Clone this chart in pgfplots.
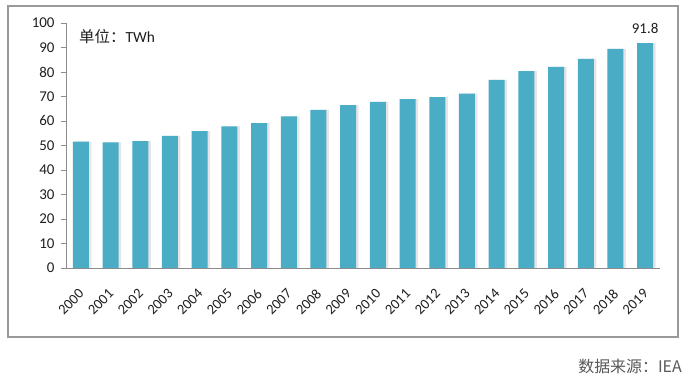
\documentclass[border=0pt]{standalone}
\usepackage{pgfplots}
\pgfplotsset{compat=1.18}
\usepackage{fontspec}
\setmainfont{Carlito}
\newfontfamily\cjk{Noto Sans CJK SC}
\definecolor{barc}{HTML}{4BACC6}
\definecolor{txt}{HTML}{1F1F1F}
\begin{document}
\begin{tikzpicture}
\path[use as bounding box] (0,0) rectangle (690bp,377bp);
\fill[white] (0,0) rectangle (690bp,377bp);
\draw[color=black!40, line width=1.5bp] (8bp,40bp) rectangle (678bp,371bp);
\begin{axis}[
  at={(66bp,109bp)}, anchor=south west,
  scale only axis, width=594bp, height=245bp,
  xmin=-0.5, xmax=19.5, ymin=0, ymax=100,
  ytick={0,10,...,100},
  xtick={0,...,19},
  xticklabels={2000,2001,2002,2003,2004,2005,2006,2007,2008,2009,2010,2011,2012,2013,2014,2015,2016,2017,2018,2019},
  axis x line*=bottom, axis y line*=left,
  axis line style={color=black!45, line width=0.8bp},
  y axis line style={-}, x axis line style={-},
  major tick length=5bp,
  ytick style={color=black!45, line width=0.8bp},
  xtick style={draw=none},
  tick align=outside,
  yticklabel style={font=\fontsize{15}{15}\selectfont, color=txt, xshift=-3bp},
  xticklabel style={font=\fontsize{14.5}{15}\selectfont, color=txt, anchor=east, yshift=-16bp, xshift=3bp, rotate=45},
  /pgf/number format/assume math mode=true,
  clip=false,
]
\addplot[ybar, bar width=16bp, bar shift=2.5bp, fill=black!10, draw=none] coordinates {
(0,51.6) (1,51.3) (2,51.8) (3,53.9) (4,55.9) (5,57.8) (6,59.1) (7,61.9) (8,64.5) (9,66.5)
(10,67.8) (11,68.9) (12,69.7) (13,71.2) (14,76.8) (15,80.4) (16,82.1) (17,85.4) (18,89.4) (19,91.8)};
\addplot[ybar, bar width=16bp, bar shift=0bp, fill=barc, draw=none] coordinates {
(0,51.6) (1,51.3) (2,51.8) (3,53.9) (4,55.9) (5,57.8) (6,59.1) (7,61.9) (8,64.5) (9,66.5)
(10,67.8) (11,68.9) (12,69.7) (13,71.2) (14,76.8) (15,80.4) (16,82.1) (17,85.4) (18,89.4) (19,91.8)};
\node[above, font=\fontsize{15}{15}\selectfont, color=txt, inner sep=0pt, yshift=9bp] at (axis cs:19,91.8) {91.8};
\end{axis}
\node[anchor=west, font=\fontsize{15.5}{16}\selectfont, color=txt, inner sep=0pt] at (79bp,340bp) {{\cjk 单位：}TWh};
\node[anchor=east, font=\cjk\fontsize{16}{16}\selectfont, color=black!65, inner sep=0pt] at (682bp,11bp) {数据来源：IEA};
\end{tikzpicture}
\end{document}
